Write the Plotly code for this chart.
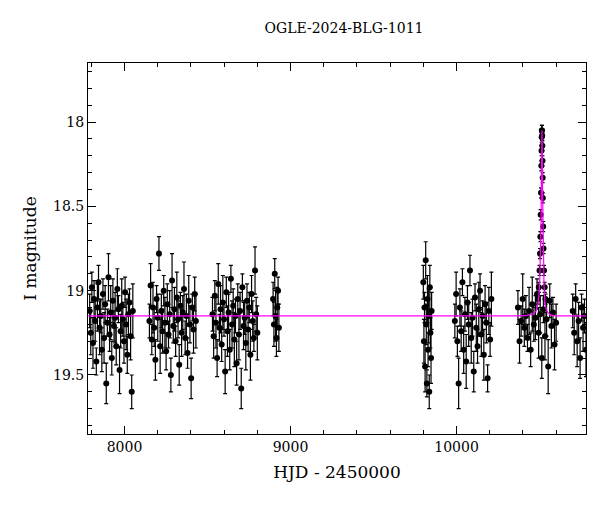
import numpy as np
import plotly.graph_objects as go

S1 = (7790, 8050)
M1 = [19.12, 19.25, 18.98, 19.31, 19.05, 19.18, 19.42, 19.10, 18.95, 19.22, 19.15, 19.35, 19.02, 19.28, 19.08,
      19.55, 19.19, 18.92, 19.26, 19.13, 19.40, 19.06, 19.21, 19.16, 19.33, 18.99, 19.11, 19.47, 19.24, 19.09,
      19.17, 19.30, 19.01, 19.20, 19.38, 19.14, 19.07, 19.27, 19.60, 19.12]
S2 = (8150, 8430)
M2 = [19.18, 18.97, 19.29, 19.10, 19.22, 19.41, 19.05, 19.16, 18.78, 19.33, 19.12, 19.24, 19.00, 19.19, 19.36,
      19.08, 19.26, 19.14, 19.50, 18.94, 19.21, 19.11, 19.30, 19.04, 19.17, 19.44, 19.09, 19.25, 19.13, 18.99,
      19.28, 19.15, 19.37, 19.06, 19.20, 19.52, 19.10, 19.23, 19.02, 19.18]
S3 = (8530, 8800)
M3 = [19.14, 19.27, 19.03, 19.19, 19.40, 18.96, 19.22, 19.11, 19.32, 19.07, 19.17, 19.48, 19.01, 19.24, 19.13,
      19.35, 18.93, 19.20, 19.09, 19.29, 19.15, 19.43, 19.05, 19.26, 19.12, 19.58, 18.98, 19.21, 19.16, 19.31,
      19.06, 19.23, 19.10, 19.38, 19.02, 19.18, 19.28, 18.88, 19.14, 19.25]
S4 = (8895, 8930)
M4 = [19.05, 19.20, 18.90, 19.15, 19.28, 19.10, 19.00, 19.22]
S5 = (9800, 9850)
M5 = [18.95, 19.30, 19.10, 19.45, 18.82, 19.20, 19.55, 19.05, 19.35, 19.15, 19.60, 18.98, 19.25, 19.40, 19.12]
S6 = (9990, 10210)
M6 = [19.18, 19.02, 19.30, 19.55, 19.10, 19.24, 18.95, 19.35, 19.14, 19.42, 19.07, 19.20, 18.88, 19.28, 19.16,
      19.48, 19.04, 19.22, 19.33, 19.11, 19.00, 19.26, 19.15, 19.38, 19.08, 19.19, 19.52, 19.12, 19.29, 19.05]
S7 = (10370, 10600)
M7 = [19.10, 19.30, 19.18, 19.05, 19.22, 19.15, 19.28, 19.12, 19.35, 19.08, 19.20, 19.16, 19.02, 19.25, 19.14,
      19.40, 19.11, 19.27, 19.17, 19.45, 19.06, 19.21, 19.13, 19.32, 19.19]
S8 = (10700, 10780)
M8 = [19.12, 19.25, 19.05, 19.30, 19.18, 19.40, 19.10, 19.22, 19.15, 19.35]

# event points near the peak
PEAK_HJD = [10490, 10496, 10500, 10503, 10505, 10507, 10509, 10511, 10512, 10513, 10514, 10515, 10516, 10517,
            10518, 10519, 10520, 10522, 10524, 10527, 10531, 10536]
PEAK_MAG = [19.05, 18.98, 18.88, 18.78, 18.68, 18.55, 18.42, 18.26, 18.17, 18.09, 18.05, 18.05, 18.08, 18.14,
            18.23, 18.33, 18.45, 18.62, 18.75, 18.88, 18.98, 19.05]

# model curve
MODEL_HJD = [7780, 10400, 10460, 10480, 10490, 10497, 10502, 10506, 10509, 10511, 10513, 10514.5, 10516,
             10518, 10520, 10523, 10527, 10532, 10540, 10550, 10570, 10600, 10780]
MODEL_MAG = [19.15, 19.15, 19.14, 19.12, 19.08, 19.02, 18.92, 18.78, 18.60, 18.40, 18.17, 18.05, 18.15,
             18.38, 18.60, 18.82, 18.97, 19.06, 19.11, 19.13, 19.145, 19.15, 19.15]

ERR_PATTERN = [0.10, 0.13, 0.09, 0.15, 0.11, 0.12, 0.08, 0.14, 0.10, 0.16]

x, y, e = [], [], []
for (a, b), mags in [(S1, M1), (S2, M2), (S3, M3), (S4, M4), (S5, M5), (S6, M6), (S7, M7), (S8, M8)]:
    x += list(np.linspace(a, b, len(mags)))
    y += mags
    e += [ERR_PATTERN[i % len(ERR_PATTERN)] for i in range(len(mags))]
x += PEAK_HJD
y += PEAK_MAG
e += [0.03] * len(PEAK_HJD)

fig = go.Figure()
fig.add_trace(go.Scatter(
    x=x, y=y, mode="markers",
    marker=dict(color="black", size=6),
    error_y=dict(type="data", array=e, color="black", thickness=1.2, width=2),
))
fig.add_trace(go.Scatter(x=MODEL_HJD, y=MODEL_MAG, mode="lines",
                         line=dict(color="#ff00ff", width=1.2)))

ax = dict(showline=True, mirror="allticks", linecolor="black", linewidth=1,
          ticks="inside", ticklen=8, tickcolor="black", showgrid=False, zeroline=False)
fig.update_layout(
    width=600, height=512, showlegend=False,
    plot_bgcolor="white", paper_bgcolor="white",
    font=dict(family="DejaVu Serif", size=14, color="black"),
    title=dict(text="OGLE-2024-BLG-1011", x=0.56, y=0.97, xanchor="center",
               font=dict(size=14)),
    margin=dict(l=80, r=22, t=55, b=86),
    xaxis=dict(range=[7780, 10780], tickvals=[8000, 9000, 10000], ticktext=["8000", "9000", "10000"],
               minor=dict(ticks="inside", ticklen=4, dtick=200, tickcolor="black"),
               title=dict(text="HJD - 2450000", standoff=12), **ax),
    yaxis=dict(range=[19.85, 17.65], tickvals=[18, 18.5, 19, 19.5], ticktext=["18", "18.5", "19", "19.5"],
               minor=dict(ticks="inside", ticklen=4, dtick=0.1, tickcolor="black"),
               title=dict(text="I magnitude", standoff=12), **ax),
)
fig.write_html("out.html")
